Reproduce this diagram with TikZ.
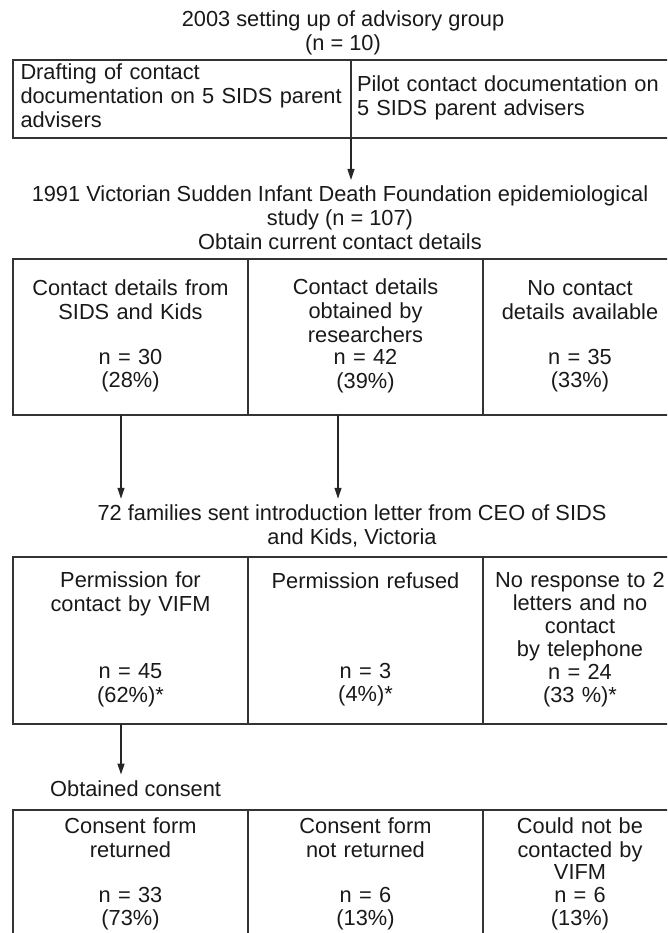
\documentclass[tikz,border=0pt]{standalone}
\usepackage{fontspec}
\setmainfont{Liberation Sans}
\usetikzlibrary{arrows.meta}
\begin{document}
\begin{tikzpicture}[x=1pt,y=-1pt,
  every node/.style={font=\fontsize{21.8}{22.5}\selectfont, text=black!90},
  cellbox/.style={draw=black!80, line width=1.2pt, anchor=north west, outer sep=0pt,
    inner ysep=0pt, inner xsep=6pt, align=center, text width=223pt, minimum width=235pt},
  narrowcell/.style={cellbox, text width=182pt, minimum width=194pt},
  ttl/.style={align=center, inner sep=6pt},
  arr/.style={draw=black!85, line width=1.2pt, -{Triangle[length=11pt,width=7pt]}}
]
\useasboundingbox (0,0) rectangle (667,933);
\clip (0,0) rectangle (667,933);

% level 1
\node[ttl] (t1) at (343,34) {\strut 2003 setting up of advisory group\\\strut (n = 10)};
\node[cellbox, minimum width=338pt, text width=323pt, inner xsep=7.5pt, align=left, minimum height=78pt] (b1a) at (13,60)
  {\strut Drafting of contact\\\strut documentation on 5 SIDS parent\\\strut advisers};
\node[cellbox, minimum width=326pt, text width=314pt, align=left, minimum height=78pt] (b1b) at (b1a.north east)
  {\strut Pilot contact documentation on\\\strut 5 SIDS parent advisers};

% level 2
\node[ttl] (t2) at (340,221) {\strut 1991 Victorian Sudden Infant Death Foundation epidemiological\\\strut study (n = 107)\\\strut Obtain current contact details};
\node[cellbox, minimum height=156pt] (b2a) at (13,259)
  {\strut Contact details from\\\strut SIDS and Kids\\\strut\\\strut n = 30\\\strut (28\%)};
\node[cellbox, minimum height=156pt] (b2b) at (b2a.north east)
  {\strut Contact details\\\strut obtained by\\\strut researchers\\\strut n = 42\\\strut (39\%)};
\node[narrowcell, minimum height=156pt] (b2c) at (b2b.north east)
  {\strut No contact\\\strut details available\\\strut\\\strut n = 35\\\strut (33\%)};

% level 3
\node[ttl] (t3) at (352,528) {\strut 72 families sent introduction letter from CEO of SIDS\\\strut and Kids, Victoria};
\node[cellbox, minimum height=167pt] (b3a) at (13,557)
  {\strut Permission for\\\strut contact by VIFM\\\strut\\\strut\\\strut n = 45\\\strut (62\%)*};
\node[cellbox, minimum height=167pt] (b3b) at (b3a.north east)
  {\strut Permission refused\\\strut\\\strut\\\strut\\\strut n = 3\\\strut (4\%)*};
\node[narrowcell, minimum height=167pt] (b3c) at (b3b.north east)
  {\strut No response to 2\\\strut letters and no\\\strut contact\\\strut by telephone\\\strut n = 24\\\strut (33 \%)*};

% level 4
\node[ttl, anchor=west, inner xsep=0pt] (t4) at (50,792) {\strut Obtained consent};
\node[cellbox, minimum height=130pt] (b4a) at (13,810)
  {\strut Consent form\\\strut returned\\\strut\\\strut n = 33\\\strut (73\%)};
\node[cellbox, minimum height=130pt] (b4b) at (b4a.north east)
  {\strut Consent form\\\strut not returned\\\strut\\\strut n = 6\\\strut (13\%)};
\node[narrowcell, minimum height=130pt] (b4c) at (b4b.north east)
  {\strut Could not be\\\strut contacted by\\\strut VIFM\\\strut n = 6\\\strut (13\%)};

% connectors
\coordinate (s1) at (b1a.south east);
\coordinate (s2) at ([xshift=-9.5pt]b2a.south);
\coordinate (s3) at ([xshift=-27.5pt]b2b.south);
\coordinate (s4) at ([xshift=-9.5pt]b3a.south);
\draw[arr] (s1) -- (s1 |- t2.north);
\draw[arr] (s2) -- (s2 |- t3.north);
\draw[arr] (s3) -- (s3 |- t3.north);
\draw[arr] (s4) -- (s4 |- t4.north);
\end{tikzpicture}
\end{document}
